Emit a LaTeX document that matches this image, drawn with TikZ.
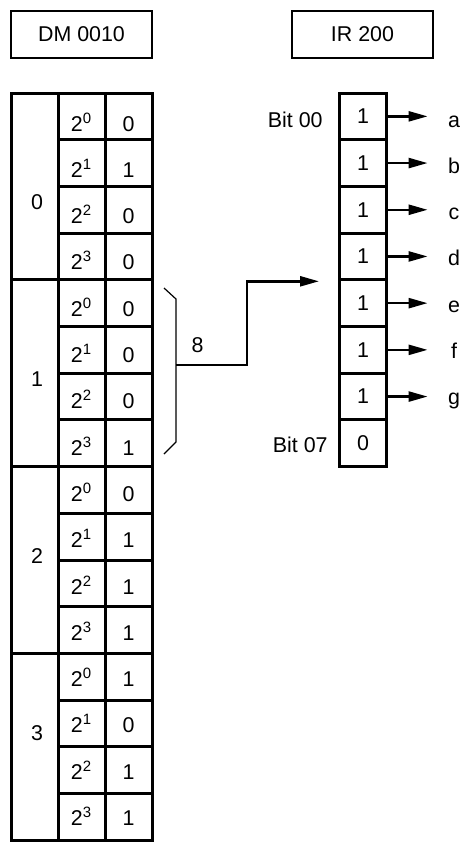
\documentclass[tikz,border=0pt]{standalone}
\usepackage{fontspec}
\setmainfont{Liberation Sans}
\usetikzlibrary{arrows.meta}
\tikzset{>=Stealth}
\tikzset{
  box/.style={draw, line width=1.2pt, minimum width=70.5pt, minimum height=23.5pt},
  cell/.style={draw, line width=1.5pt, minimum width=23.5pt, minimum height=23.35pt, inner sep=0pt},
  tabline/.style={line width=1.5pt},
  arr/.style={-{Triangle[length=9.5pt,width=5pt]}, line width=1.2pt},
  outlbl/.style={anchor=base, inner sep=0pt, minimum width=12pt},
}

\begin{document}
\begin{tikzpicture}[x=0.5pt,y=-0.5pt,font=\fontsize{10.7pt}{13pt}\selectfont]
  \useasboundingbox (0,0) rectangle (473,848);

  % Title boxes
  \node[box] (dm) at (81.5,34.5) {DM 0010};
  \node[box] (ir) at (362.5,34.5) {IR 200};

  % DM 0010 table
  \draw[tabline] (11,93) rectangle (152,840);
  \draw[tabline] (58,93) -- (58,840);
  \draw[tabline] (105,93) -- (105,840);
  \foreach \i in {1,...,15} {
    \draw[tabline] (58,93+\i*46.7) -- (152,93+\i*46.7);
  }
  \foreach \j in {1,2,3} {
    \draw[tabline] (11,93+\j*186.8) -- (58,93+\j*186.8);
  }

  % digit numbers
  \foreach \d in {0,...,3} {
    \node (g\d) at (37,202+\d*177) {\d};
  }

  % bit weights and bit values
  \foreach \v [count=\i from 0] in {0,1,0,0,0,0,0,1,0,1,1,1,1,0,1,1} {
    \pgfmathtruncatemacro\e{mod(\i,4)}
    \node[anchor=base] (p\i) at (81.5,131+\i*46.3) {2\textsuperscript{\e}};
    \node[anchor=base] (v\i) at (128.5,131+\i*46.3) {\v};
  }

  % IR 200 word
  \foreach \v [count=\i from 0] in {1,1,1,1,1,1,1,0} {
    \node[cell] (ir\i) at (363,116.35+\i*46.7) {\v};
  }
  \node[anchor=base east, inner sep=0pt] (b0) at (323,127) {Bit 00};
  \node[anchor=base east, inner sep=0pt] (b7) at (328,452) {Bit 07};

  % Segment outputs
  \foreach \l [count=\i from 0] in {a,b,c,d,e,f,g} {
    \node[outlbl] (o\i) at (454,127+\i*46.3) {\l};
    \draw[arr, shorten >=7pt] (ir\i.east) -- (ir\i.east -| o\i.west);
  }

  % Brace over digit 1 and the decoded value
  \draw[line width=0.6pt] (164,288) -- (176,299) -- (176,442) -- (164,454);
  \coordinate (bmid) at (176,365);
  \coordinate (knee) at (247,365);
  \node (eight) at (197.5,345.5) {8};
  \draw[arr] (bmid) -- (knee) |- ([xshift=-9.5pt]ir3.south west);
\end{tikzpicture}
\end{document}
